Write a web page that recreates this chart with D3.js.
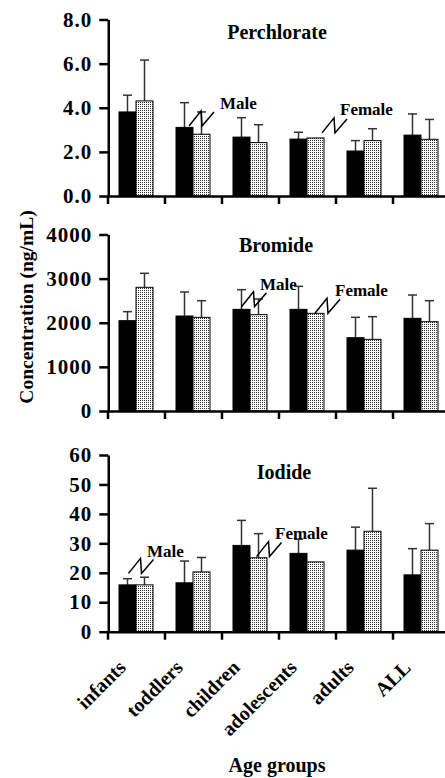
<!DOCTYPE html>
<html lang="en">
    <head>
        <meta charset="utf-8">
        <title>Perchlorate, Bromide, Iodide by age group</title>
        <script src="https://d3js.org/d3.v7.min.js"></script>
        <style>
            body { margin: 0; background: #fff; }
            svg { display: block; }
            text { font-family: "Liberation Serif", "Times New Roman", serif; font-weight: bold; fill: #000; }
            .axis path, .axis line { stroke: #000; stroke-width: 2.5; }
            .axis text { font-size: 21px; letter-spacing: 1px; }
            .male { fill: #000; stroke: #000; stroke-width: 1; }
            .female { fill: url(#dots); stroke: #000; stroke-width: 1; }
            .err { stroke: #333; stroke-width: 1.5; fill: none; }
            .squiggle { stroke: #000; stroke-width: 1.5; fill: none; }
        </style>
    </head>
    <body>
        <svg id="chart"></svg>
        <script>
            //data
            const categories = ["infants", "toddlers", "children", "adolescents", "adults", "ALL"];

            const perchlorateMale = [3.81, 3.11, 2.67, 2.58, 2.04, 2.76];
            const perchlorateMaleSD = [0.76, 1.12, 0.88, 0.31, 0.47, 0.96];
            const perchlorateFemale = [4.31, 2.80, 2.42, 2.63, 2.51, 2.57];
            const perchlorateFemaleSD = [1.85, 1.01, 0.81, 0, 0.54, 0.90];
            const perchlorateTicks = [0, 2, 4, 6, 8];

            const bromideMale = [2047, 2153, 2304, 2304, 1662, 2100];
            const bromideMaleSD = [204, 544, 446, 521, 461, 529];
            const bromideFemale = [2803, 2123, 2183, 2213, 1624, 2024];
            const bromideFemaleSD = [317, 377, 355, 0, 514, 476];
            const bromideTicks = [0, 1000, 2000, 3000, 4000];

            const iodideMale = [15.9, 16.6, 29.3, 26.6, 27.7, 19.3];
            const iodideMaleSD = [2.1, 7.4, 8.5, 4.8, 7.8, 8.9];
            const iodideFemale = [15.9, 20.3, 25.1, 23.7, 34.1, 27.7];
            const iodideFemaleSD = [2.6, 4.9, 8.2, 0, 14.6, 9.0];
            const iodideTicks = [0, 10, 20, 30, 40, 50, 60];

            //chart dimensions
            const width = 445, height = 778;
            const xLeft = 107.5, xRight = 449.5;
            const barWidth = 17;

            const panels = [
                { title: "Perchlorate", titleValue: 7.12, titleDx: -1.5, male: perchlorateMale, maleSD: perchlorateMaleSD,
                  female: perchlorateFemale, femaleSD: perchlorateFemaleSD, ticks: perchlorateTicks, fmt: d3.format(".1f"),
                  bottom: 196, top: 19.5,
                  notes: [
                      { text: "Male", cat: "children", dx: -1.5, value: 3.95, sq: { cat: "toddlers", dx: 24.5, value: 3.17 } },
                      { text: "Female", cat: "adults", dx: 4.5, value: 3.67, sq: { cat: "adolescents", dx: 43.5, value: 2.86 } }
                  ] },
                { title: "Bromide", titleValue: 3610, titleDx: -2.5, male: bromideMale, maleSD: bromideMaleSD,
                  female: bromideFemale, femaleSD: bromideFemaleSD, ticks: bromideTicks, fmt: d3.format("d"),
                  bottom: 411, top: 234.5,
                  notes: [
                      { text: "Male", cat: "children", dx: 38.5, value: 2742, sq: { cat: "children", dx: 20, value: 2364 } },
                      { text: "Female", cat: "adults", dx: -0.5, value: 2613, sq: { cat: "adolescents", dx: 36.5, value: 2214 } }
                  ] },
                { title: "Iodide", titleValue: 51.9, titleDx: 5.5, male: iodideMale, maleSD: iodideMaleSD,
                  female: iodideFemale, femaleSD: iodideFemaleSD, ticks: iodideTicks, fmt: d3.format("d"),
                  bottom: 631.7, top: 455,
                  notes: [
                      { text: "Male", cat: "infants", dx: 39.5, value: 25.5, sq: { cat: "infants", dx: 21, value: 19.8 } },
                      { text: "Female", cat: "adolescents", dx: -3.5, value: 31.4, sq: { cat: "children", dx: 35, value: 25.5 } }
                  ] }
            ];

            const svg = d3.select("#chart")
                .attr("width", width)
                .attr("height", height);

            //dot pattern for female bars
            const pattern = svg.append("defs").append("pattern")
                .attr("id", "dots")
                .attr("width", 2)
                .attr("height", 2)
                .attr("patternUnits", "userSpaceOnUse");
            pattern.append("rect").attr("width", 2).attr("height", 2).attr("fill", "#fff");
            pattern.append("rect").attr("width", 1).attr("height", 1).attr("fill", "#333");

            const xScale = d3.scaleBand()
                .domain(categories)
                .range([xLeft, xRight]);

            const tickScale = d3.scaleLinear()
                .domain([0, categories.length])
                .range([xLeft, xRight]);

            const cx = c => xScale(c) + xScale.bandwidth() / 2;

            const squiggle = d3.line();
            const squigglePts = [[0, 0], [12, -15], [13, 0], [25, -14]];

            panels.forEach(p => {
                const yScale = d3.scaleLinear()
                    .domain([0, d3.max(p.ticks)])
                    .range([p.bottom, p.top]);

                const g = svg.append("g");

                const rows = categories.map((c, i) => [
                    { cat: c, sex: "male", v: p.male[i], sd: p.maleSD[i], x: cx(c) - barWidth },
                    { cat: c, sex: "female", v: p.female[i], sd: p.femaleSD[i], x: cx(c) }
                ]).flat();

                //error bars
                const err = g.selectAll(".errg")
                    .data(rows.filter(d => d.sd > 0))
                    .enter()
                    .append("g");
                err.append("line")
                    .attr("class", "err")
                    .attr("x1", d => d.x + barWidth / 2)
                    .attr("x2", d => d.x + barWidth / 2)
                    .attr("y1", d => yScale(d.v))
                    .attr("y2", d => yScale(d.v + d.sd));
                err.append("line")
                    .attr("class", "err")
                    .attr("x1", d => d.x + barWidth / 2 - 4.5)
                    .attr("x2", d => d.x + barWidth / 2 + 4.5)
                    .attr("y1", d => yScale(d.v + d.sd))
                    .attr("y2", d => yScale(d.v + d.sd));

                //bars
                g.selectAll(".bar")
                    .data(rows)
                    .enter()
                    .append("rect")
                    .attr("class", d => d.sex)
                    .attr("x", d => d.x)
                    .attr("y", d => yScale(d.v))
                    .attr("width", barWidth)
                    .attr("height", d => yScale(0) - yScale(d.v));

                //title
                g.append("text")
                    .attr("x", (xLeft + xRight) / 2 + p.titleDx)
                    .attr("y", yScale(p.titleValue))
                    .attr("text-anchor", "middle")
                    .style("font-size", "20px")
                    .text(p.title);

                //male / female notes
                p.notes.forEach(n => {
                    g.append("text")
                        .attr("x", xScale(n.cat) + n.dx)
                        .attr("y", yScale(n.value))
                        .style("font-size", "17px")
                        .text(n.text);
                    g.append("path")
                        .attr("class", "squiggle")
                        .attr("transform", `translate(${xScale(n.sq.cat) + n.sq.dx}, ${yScale(n.sq.value)})`)
                        .attr("d", squiggle(squigglePts));
                });

                //axes
                g.append("g")
                    .attr("class", "axis")
                    .attr("transform", `translate(0, ${p.bottom})`)
                    .call(d3.axisBottom(tickScale)
                        .tickValues(d3.range(categories.length + 1))
                        .tickFormat("")
                        .tickSize(8)
                        .tickSizeOuter(0));

                g.append("g")
                    .attr("class", "axis")
                    .attr("transform", `translate(${xLeft + 0.75}, 0)`)
                    .call(d3.axisLeft(yScale)
                        .tickValues(p.ticks)
                        .tickFormat(p.fmt)
                        .tickSize(9)
                        .tickPadding(7)
                        .tickSizeOuter(0));
            });

            //category labels under the last panel
            const lastBottom = panels[panels.length - 1].bottom;
            svg.append("g")
                .selectAll("text")
                .data(categories)
                .enter()
                .append("text")
                .attr("text-anchor", "end")
                .attr("transform", d => `translate(${cx(d) - 9}, ${lastBottom + 37}) rotate(-45)`)
                .style("font-size", "20px")
                .text(d => d);

            //axis titles
            svg.append("text")
                .attr("text-anchor", "middle")
                .attr("transform", "translate(33, 307) rotate(-90)")
                .style("font-size", "19.5px")
                .text("Concentration (ng/mL)");

            svg.append("text")
                .attr("x", 277)
                .attr("y", 772)
                .attr("text-anchor", "middle")
                .style("font-size", "20px")
                .text("Age groups");
        </script>
    </body>
</html>
